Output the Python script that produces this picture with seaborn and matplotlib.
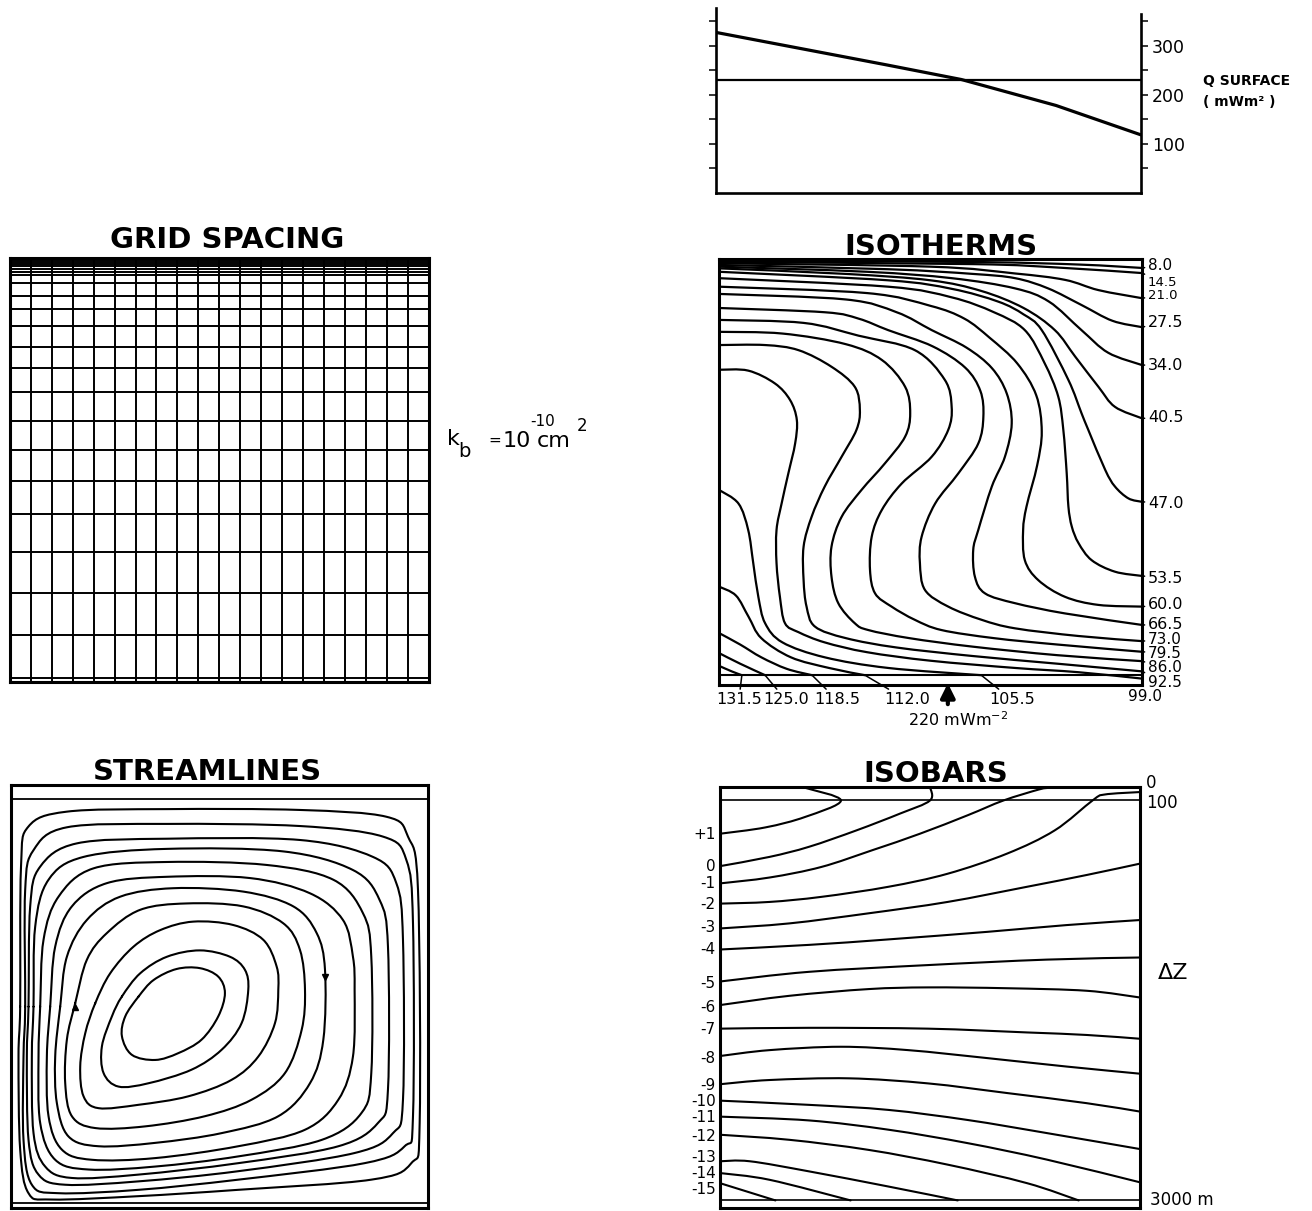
import numpy as np
import matplotlib.pyplot as plt
import seaborn as sns
from matplotlib.path import Path
from matplotlib.patches import PathPatch

# ---------------- data ----------------
# surface heat flow, x in % of section width
q_x = [0, 20, 40, 57.7, 80, 100]
q_flux = [327, 294, 261, 231, 178, 118]
q_mean = 230
q_ticks = [50, 100, 150, 200, 250, 300, 350]
q_ticklabels = ["", "100", "", "200", "", "300", ""]

# grid spacing (x and depth in % of the box)
grid_x = [0, 5, 10, 15, 20, 25, 30, 35, 40, 45, 50, 55, 60, 65, 70, 75, 80, 85, 90, 95, 100]
grid_depth = [0, 0.4, 0.9, 1.3, 2.0, 2.6, 3.3, 4.1, 5.9, 8.9, 12.0, 16.0, 20.9, 26.0,
              31.7, 38.4, 45.3, 52.5, 60.4, 69.4, 79.1, 89.0, 99.0, 100]

# isotherms (deg C), traced in % of width / depth
isotherm_values = [8.0, 14.5, 21.0, 27.5, 34.0, 40.5, 47.0, 53.5, 60.0, 66.5,
                   73.0, 79.5, 86.0, 92.5, 99.0, 105.5, 112.0, 118.5, 125.0, 131.5]
isotherm_x = [
    [0, 60, 85, 100],
    [0, 60, 80, 100],
    [0, 50, 70, 81.8, 89.7, 100],
    [0, 40, 60, 70, 77.8, 85.7, 93, 100],
    [0, 35, 55, 70, 78, 85.7, 92, 100],
    [0, 30, 50, 62, 72, 79.4, 84.2, 89.7, 93.6, 100],
    [0, 40, 55, 66, 72, 76.3, 82.6, 85.7, 87.3, 91.3, 93.6, 96.8, 100],
    [0, 40, 55, 65, 72.3, 77.0, 80.2, 81.4, 82.2, 82.6, 83.4, 85.0, 88.1, 93.6, 100],
    [0, 35, 50, 58, 64, 70.5, 75.0, 76.3, 75.2, 72.7, 71.9, 72.3, 75.5, 81.8, 89.7, 100],
    [0, 30, 42, 50.3, 58.5, 64.5, 68.0, 69.2, 67.6, 64.5, 61.3, 60.1, 60.5, 62.9, 70.0, 81.8, 100],
    [0, 25, 33, 40, 50.5, 58.2, 61.8, 62.5, 61.3, 56.6, 51.1, 47.9, 47.5, 48.7, 54.2, 62.1, 70.0, 85, 100],
    [0, 20, 33, 46.3, 53.4, 55.0, 54.2, 50.3, 43.2, 38.5, 36.1, 35.7, 36.9, 40.8, 46.3, 52.6, 65, 80, 100],
    [0, 15, 30, 38.5, 44.0, 45.2, 44.0, 39.2, 33.7, 29.0, 26.6, 26.6, 28.2, 32.1, 35.3, 45, 60, 80, 100],
    [0, 10.9, 18.8, 26.6, 32.1, 33.3, 32.5, 29.0, 25.0, 21.9, 20.0, 20.0, 20.7, 22.7, 30, 42, 60, 80, 100],
    [0, 6.9, 13.2, 16.8, 18.4, 18.0, 16.4, 14.8, 13.6, 13.6, 14.4, 15.6, 18.8, 25.0, 35, 50, 70, 85, 100],
    [0, 4.6, 6.9, 8.1, 9.3, 10.9, 15, 25, 40, 62],
    [0, 4, 7, 10, 17, 26, 34.5],
    [0, 5, 10, 16, 22],
    [0, 5, 10.9],
    [0, 3, 5.4],
]
isotherm_depth = [
    [0.4, 0.7, 1.3, 2.1],
    [0.7, 1.2, 2.0, 3.3],
    [1.0, 1.8, 3.4, 4.9, 7.3, 9.2],
    [1.4, 2.4, 3.5, 4.5, 6.9, 10.8, 14.5, 16.0],
    [1.8, 3.0, 4.5, 6.9, 10.0, 16.7, 22.0, 24.9],
    [2.2, 3.5, 5.0, 7.5, 11.5, 16.7, 22.9, 30.0, 34.7, 37.4],
    [3.0, 5.0, 7.0, 10.0, 13.0, 16.7, 28.4, 36.2, 40.1, 49.5, 53.4, 56.2, 57.0],
    [4.5, 6.5, 9.0, 12.5, 16.7, 24.5, 32.3, 40.1, 50.3, 58.1, 62.8, 66.7, 70.7, 73.4, 74.4],
    [6.5, 8.0, 11.0, 14.0, 18.5, 24.5, 32.0, 40.5, 48.5, 58.1, 63.6, 70.7, 75.4, 79.3, 81.2, 81.6],
    [8.2, 9.5, 12.5, 16.7, 20.8, 25.6, 31.5, 38.6, 46.4, 53.4, 63.6, 68.3, 74.6, 78.5, 80.8, 83.2, 85.9],
    [11.5, 12.5, 14.0, 16.7, 20.5, 25.5, 31.0, 37.0, 43.3, 50.3, 57.4, 65.2, 71.4, 77.7, 81.6, 84.7, 86.7, 88.5, 89.7],
    [14.3, 15.0, 18.0, 21.4, 28.4, 34.7, 40.1, 46.4, 52.7, 58.9, 65.2, 73.0, 78.5, 81.6, 84.7, 87.1, 89.0, 90.5, 92.2],
    [17.1, 17.5, 20.0, 23.7, 30.0, 36.2, 41.7, 48.0, 54.2, 60.5, 67.5, 74.6, 80.8, 85.5, 87.1, 89.0, 91.0, 93.0, 94.4],
    [20.2, 20.2, 21.4, 25.3, 30.0, 35.4, 40.1, 46.4, 53.4, 60.5, 67.5, 75.4, 81.6, 86.3, 89.0, 91.2, 93.2, 95.0, 96.8],
    [26.0, 26.2, 29.2, 33.1, 37.8, 43.3, 50.3, 57.4, 63.6, 71.4, 79.3, 85.5, 87.6, 90.0, 92.3, 94.3, 96.0, 97.0, 98.5],
    [54.2, 57.4, 63.6, 71.4, 79.3, 85.5, 90.0, 93.5, 96.0, 97.7],
    [76.9, 79.0, 84.0, 89.0, 93.5, 96.0, 97.7],
    [87.8, 90.5, 93.5, 96.2, 97.7],
    [92.5, 95.0, 97.7],
    [95.5, 96.8, 97.7],
]
bottom_heat_flux = "220"

# isobars (Delta Z), traced in % of width / depth
isobar_values = [1, 0, -1, -2, -3, -4, -5, -6, -7, -8, -9, -10, -11, -12, -13, -14, -15]
isobar_x = [
    [0, 10.8, 20.3, 28.8, 20.3],
    [0, 11.8, 21.2, 32.5, 42.9, 50, 50],
    [0, 11.8, 24.1, 36.3, 47.6, 59, 67.5, 75.9, 78.3],
    [0, 11.8, 24.1, 40.1, 54.2, 68.4, 79.7, 88.7, 91.5, 100],
    [0, 16.5, 35.4, 54.2, 73.1, 87.3, 100],
    [0, 21.2, 40.1, 63.7, 82.5, 100],
    [0, 21.2, 49.5, 77.8, 100],
    [0, 16.5, 35.4, 49.5, 68.4, 87.3, 100],
    [0, 21.2, 49.5, 73.1, 87.3, 100],
    [0, 11.8, 28.8, 44.8, 63.7, 82.5, 100],
    [0, 11.8, 30.7, 49.5, 68.4, 87.3, 100],
    [0, 21.2, 40.1, 59.0, 77.8, 100],
    [0, 21.2, 40.1, 59.0, 77.8, 100],
    [0, 16.5, 35.4, 54.2, 73.1, 85.4],
    [0, 7.1, 21.2, 40.1, 56.6],
    [0, 11.8, 31.1],
    [0, 13.2],
]
isobar_depth = [
    [11.1, 9.6, 7.1, 3.2, 0.2],
    [18.8, 16.6, 14.2, 10.3, 6.3, 3.2, 0],
    [22.9, 21.5, 19.0, 15.0, 11.1, 6.7, 3.2, 0.6, 0.2],
    [27.7, 27.3, 26.1, 23.7, 20.6, 15.8, 10.3, 3.2, 1.8, 1.2],
    [33.6, 32.4, 30.0, 27.3, 23.7, 20.9, 18.2],
    [38.6, 37.5, 36.2, 34.4, 32.8, 31.6],
    [46.2, 43.9, 42.3, 41.0, 40.5],
    [51.8, 49.6, 48.0, 47.6, 47.8, 48.4, 50.0],
    [57.4, 57.2, 57.4, 58.3, 58.9, 59.8],
    [63.9, 62.5, 61.7, 62.5, 64.4, 66.4, 68.1],
    [70.6, 69.6, 69.2, 70.4, 72.7, 75.1, 77.1],
    [74.5, 75.5, 76.7, 79.1, 82.2, 86.0],
    [78.3, 79.2, 81.4, 84.6, 88.5, 93.9],
    [82.6, 83.8, 86.2, 89.7, 94.1, 98.2],
    [88.9, 88.9, 91.3, 94.9, 98.2],
    [91.7, 93.3, 98.2],
    [94.1, 98.2],
]

# streamlines: closed loops, innermost first
stream_x = [
    [30.6, 34.2, 39.7, 45.3, 49.7, 51.3, 49.7, 45.7, 40.1, 34.6, 29.0, 26.6, 27.4],
    [26.6, 31.0, 37.4, 45.3, 52.5, 56.1, 56.9, 55.3, 50.5, 43.3, 33.0, 25.8, 22.2, 21.8, 24.2],
    [20.2, 23.8, 29.4, 35.8, 43.7, 53.3, 60.5, 63.7, 64.1, 63.3, 59.3, 52.9, 42.5, 30.6, 21.0, 17.4, 16.6, 17.8],
    [15.4, 18.2, 23.0, 31.0, 42.1, 55.7, 65.3, 69.3, 70.5, 69.7, 65.7, 57.7, 46.5, 32.2, 20.2, 14.6, 13.0, 13.4],
    [11.8, 13.4, 18.2, 26.2, 38.9, 55.7, 67.7, 73.3, 75.3, 74.9, 71.7, 64.1, 50.5, 34.6, 21.0, 13.8, 11.0, 10.6],
    [9.4, 10.6, 14.6, 23.0, 37.4, 57.3, 71.7, 79.6, 82.0, 82.4, 82.0, 78.5, 70.5, 54.5, 34.6, 19.4, 12.2, 9.0, 8.6],
    [7.0, 7.8, 11.4, 19.8, 37.4, 61.3, 77.3, 84.4, 86.4, 86.4, 84.0, 74.5, 54.5, 34.6, 18.6, 10.6, 7.0, 6.6],
    [5.4, 5.8, 9.0, 17.4, 37.4, 65.3, 82.0, 88.4, 90.4, 90.4, 88.0, 78.5, 54.5, 30.6, 14.6, 8.2, 5.4, 5.0],
    [4.2, 4.6, 7.0, 15.8, 37.4, 69.3, 86.8, 92.4, 94.0, 94.0, 91.6, 82.4, 54.5, 30.6, 13.0, 6.6, 4.2, 3.8],
    [3.4, 3.4, 5.4, 13.4, 37.4, 69.3, 89.2, 94.8, 96.4, 96.4, 94.4, 84.8, 54.5, 30.6, 11.4, 5.0, 3.0, 3.0],
    [2.2, 2.4, 4.2, 13.4, 37.4, 69.3, 90.0, 95.2, 97.6, 98.0, 96.0, 86.4, 54.5, 30.6, 9.8, 4.2, 2.2, 1.8],
]
stream_depth = [
    [50.0, 46.1, 43.5, 43.3, 45.3, 49.2, 54.7, 60.2, 63.4, 65.0, 63.8, 59.4, 54.7],
    [50.0, 44.5, 40.6, 39.1, 40.6, 43.7, 48.4, 56.3, 62.6, 67.3, 70.5, 71.3, 68.1, 61.8, 54.7],
    [51.6, 44.5, 38.2, 34.3, 32.3, 33.1, 36.6, 42.9, 48.4, 56.3, 64.2, 69.7, 73.6, 75.6, 76.4, 73.6, 66.5, 58.7],
    [51.6, 41.3, 35.0, 29.5, 28.0, 28.7, 32.7, 39.0, 48.4, 57.9, 68.1, 74.4, 78.3, 80.7, 81.1, 78.3, 70.5, 60.2],
    [52.4, 40.6, 31.9, 26.4, 24.4, 25.2, 28.7, 35.0, 43.7, 60.2, 70.5, 78.3, 82.3, 84.6, 85.4, 83.1, 75.2, 64.2],
    [52.4, 38.2, 28.7, 23.2, 21.7, 22.0, 25.6, 31.9, 40.6, 48.4, 64.2, 74.4, 81.5, 85.4, 88.2, 88.6, 86.2, 78.3, 64.2],
    [52.4, 36.6, 26.4, 19.7, 18.2, 18.9, 22.4, 30.3, 40.6, 68.1, 77.6, 83.9, 87.8, 90.2, 90.9, 88.6, 79.9, 64.2],
    [52.4, 33.5, 22.4, 17.0, 15.1, 15.7, 20.1, 27.2, 38.2, 72.0, 79.9, 85.4, 89.4, 92.1, 92.9, 90.2, 82.3, 64.2],
    [52.4, 28.7, 19.3, 13.8, 12.7, 13.0, 17.0, 23.2, 36.6, 74.4, 82.3, 87.0, 91.3, 93.7, 94.5, 92.1, 83.9, 64.2],
    [52.4, 24.8, 15.4, 10.0, 9.2, 9.7, 12.2, 17.7, 32.7, 78.3, 85.4, 89.4, 93.3, 95.7, 96.5, 94.5, 83.9, 64.2],
    [52.4, 19.3, 9.8, 6.3, 5.7, 5.9, 7.5, 12.2, 24.8, 79.9, 89.4, 93.3, 95.7, 97.2, 98.0, 96.5, 86.2, 64.2],
]
flow_up = (15.4, 52.4)
flow_down = (75.3, 45.3)

# ---------------- layout ----------------
W, H = 1312, 1211


def rect(l, t, r, b):
    return [l / W, 1 - b / H, (r - l) / W, (b - t) / H]


def fpos(px, py):
    return px / W, 1 - py / H


def smooth_path(xs, ys, closed=False):
    # Catmull-Rom through the traced points, drawn as cubic Bezier pieces
    pts = np.column_stack([xs, ys]).astype(float)
    if closed:
        ext = np.vstack([pts[-1], pts, pts[0], pts[1]])
    else:
        ext = np.vstack([pts[0], pts, pts[-1]])
    verts = [ext[1]]
    codes = [Path.MOVETO]
    for i in range(1, len(ext) - 2):
        p0, p1, p2, p3 = ext[i - 1], ext[i], ext[i + 1], ext[i + 2]
        verts += [p1 + (p2 - p0) / 6, p2 - (p3 - p1) / 6, p2]
        codes += [Path.CURVE4] * 3
    return Path(verts, codes)


def draw_curve(ax, xs, ys, closed=False, lw=1.5):
    ax.add_patch(PathPatch(smooth_path(xs, ys, closed), fill=False, lw=lw,
                           ec="black", capstyle="round", joinstyle="round"))


sns.set_theme(style="white", rc={"axes.edgecolor": "black", "text.color": "black",
                                 "xtick.color": "black", "ytick.color": "black",
                                 "axes.labelcolor": "black"})
plt.rcParams["font.family"] = ["DejaVu Sans"]

fig = plt.figure(figsize=(W / 100, H / 100), dpi=100)
fig.patch.set_facecolor("white")


def box_axes(l, t, r, b):
    ax = fig.add_axes(rect(l, t, r, b))
    ax.set_xlim(0, 100)
    ax.set_ylim(100, 0)
    ax.set_xticks([])
    ax.set_yticks([])
    for s in ax.spines.values():
        s.set_visible(True)
        s.set_linewidth(2.2)
        s.set_color("black")
    return ax


def title(ax, text, xfrac, off):
    ax.annotate(text, xy=(xfrac, 1), xycoords="axes fraction", xytext=(0, off),
                textcoords="offset pixels", ha="center", va="baseline",
                fontsize=21, fontweight="bold", color="black")


line = dict(arrowstyle="-", lw=1.1, color="black", shrinkA=0, shrinkB=0)

# ---- Q surface ----
axQ = fig.add_axes(rect(716.4, 7.5, 1141, 192.7))
sns.lineplot(x=q_x, y=q_flux, ax=axQ, color="black", lw=2.3)
axQ.axhline(q_mean, color="black", lw=1.6)
axQ.set_xlim(0, 100)
axQ.set_ylim(0, 378)
axQ.spines["top"].set_visible(False)
for s in ["left", "right", "bottom"]:
    axQ.spines[s].set_visible(True)
    axQ.spines[s].set_linewidth(1.9)
axQ.spines["right"].set_bounds(0, 365)
axQ.set_xticks([])
axQ.set_yticks(q_ticks)
axQ.set_yticklabels(q_ticklabels)
axQ.tick_params(axis="y", left=True, right=True, labelleft=False, labelright=True,
                direction="out", length=5, width=1.1, labelsize=12.5, pad=3)
axQ.set_xlabel("")
axQ.set_ylabel("")
fig.text(*fpos(1203, 85), "Q SURFACE", fontsize=10, fontweight="bold", va="baseline")
fig.text(*fpos(1203, 106), "( mWm² )", fontsize=10, fontweight="bold", va="baseline")

# ---- grid spacing ----
axG = box_axes(10, 258, 428.5, 682)
axG.vlines(grid_x, 0, 100, color="black", lw=1.4)
axG.hlines(grid_depth, 0, 100, color="black", lw=1.4)
title(axG, "GRID SPACING", 0.518, 10)

fig.text(*fpos(447, 445), "k", fontsize=16, va="baseline")
fig.text(*fpos(458, 457), "b", fontsize=14, va="baseline")
fig.text(*fpos(488, 445), "=", fontsize=11, va="baseline")
fig.text(*fpos(503, 447), "10", fontsize=16, va="baseline")
fig.text(*fpos(530, 426), "-10", fontsize=11, va="baseline")
fig.text(*fpos(537, 447), "cm", fontsize=16, va="baseline")
fig.text(*fpos(577, 431), "2", fontsize=12, va="baseline")

# ---- isotherms ----
axT = box_axes(719, 259, 1142, 685)
axT.axhline(97.7, color="black", lw=1.5)
for xs, ds in zip(isotherm_x, isotherm_depth):
    draw_curve(axT, xs, ds, lw=1.6)
title(axT, "ISOTHERMS", 0.525, 4)

right_label_depth = [1.6, 5.4, 8.6, 14.8, 24.9, 37.3, 57.3, 74.9, 81.2, 85.9,
                     89.4, 92.5, 96.0, 99.3]
right_label_size = [11, 9.5, 9.5, 11.5, 11.5, 11.5, 11.5, 11.5, 11.5, 11.5,
                    11, 11, 11, 11]
for v, xs, ds, ld, fs in zip(isotherm_values, isotherm_x, isotherm_depth,
                             right_label_depth, right_label_size):
    axT.annotate(f"{v:.1f}", xy=(xs[-1], ds[-1]), xytext=(101.4, ld),
                 ha="left", va="center", fontsize=fs, annotation_clip=False,
                 arrowprops=line)
axT.annotate(f"{isotherm_values[14]:.1f}", xy=(100, isotherm_depth[14][-1]),
             xytext=(100.7, 102.8), ha="center", va="center", fontsize=11,
             annotation_clip=False, arrowprops=line)
bottom_label_x = [69.3, 44.4, 27.9, 15.8, 4.7]
for v, xs, ds, lx in zip(isotherm_values[15:], isotherm_x[15:], isotherm_depth[15:], bottom_label_x):
    axT.annotate(f"{v:.1f}", xy=(xs[-1], ds[-1]), xytext=(lx, 103.5),
                 ha="center", va="center", fontsize=11.5, annotation_clip=False,
                 arrowprops=line)
axT.annotate("", xy=(54.1, 99.6), xytext=(54.1, 104.5), annotation_clip=False,
             arrowprops=dict(arrowstyle="-|>,head_width=0.3,head_length=0.6",
                             lw=3, color="black", mutation_scale=14,
                             shrinkA=0, shrinkB=0))
axT.text(56.5, 108.2, bottom_heat_flux + r" mWm$^{\mathregular{-2}}$", ha="center",
         va="center", fontsize=11.5)

# ---- streamlines ----
axS = box_axes(11, 785, 428, 1208)
axS.axhline(3.3, color="black", lw=1.3)
axS.axhline(98.8, color="black", lw=1.3)
for xs, ds in zip(stream_x, stream_depth):
    draw_curve(axS, xs, ds, closed=True, lw=1.5)
axS.plot(*flow_up, marker="^", ms=5, color="black")
axS.plot(*flow_down, marker="v", ms=5, color="black")
title(axS, "STREAMLINES", 0.471, 5)

# ---- isobars ----
axP = box_axes(720, 787, 1140, 1208)
axP.axhline(3.16, color="black", lw=1.2)
axP.axhline(98.2, color="black", lw=1.2)
isobar_label_depth = [11.4, 19.0, 23.0, 27.8, 33.3, 38.7, 46.6, 52.3, 57.5, 64.4,
                      70.8, 74.6, 78.6, 83.1, 87.9, 91.7, 95.7]
for v, xs, ds, ld in zip(isobar_values, isobar_x, isobar_depth, isobar_label_depth):
    draw_curve(axP, xs, ds, lw=1.5)
    lab = "0" if v == 0 else f"{v:+d}"
    axP.text(-1.0, ld, lab, ha="right", va="center", fontsize=11)
title(axP, "ISOBARS", 0.514, 5)
axP.text(101.4, -1.0, "0", ha="left", va="center", fontsize=12)
axP.text(101.4, 3.8, "100", ha="left", va="center", fontsize=12)
axP.text(104.3, 44.2, "ΔZ", ha="left", va="center", fontsize=16)
axP.text(102.4, 98.1, "3000 m", ha="left", va="center", fontsize=12)

fig.savefig("out.png", dpi=100, facecolor="white")
